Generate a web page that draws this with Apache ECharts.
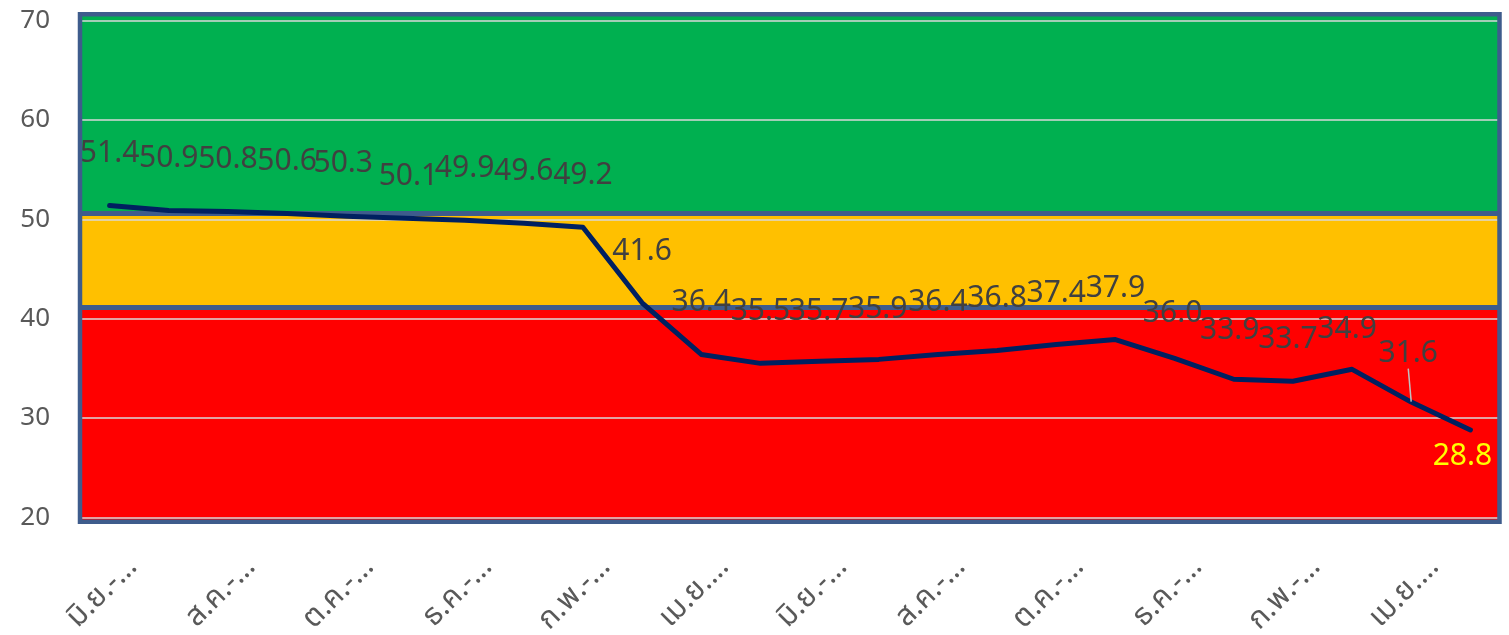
<!DOCTYPE html>
<html>
<head>
<meta charset="utf-8">
<script src="https://cdn.jsdelivr.net/npm/echarts@6/dist/echarts.min.js"></script>
<style>
html,body{margin:0;padding:0;background:#fff;}
#chart{width:1509px;height:635px;}
</style>
</head>
<body>
<div id="chart"></div>
<script>
// ---- data ----
const categories = [
  'มิ.ย.-…','ก.ค.-…','ส.ค.-…','ก.ย.-…','ต.ค.-…','พ.ย.-…','ธ.ค.-…','ม.ค.-…','ก.พ.-…','มี.ค.-…','เม.ย.…','พ.ค.-…',
  'มิ.ย.-…','ก.ค.-…','ส.ค.-…','ก.ย.-…','ต.ค.-…','พ.ย.-…','ธ.ค.-…','ม.ค.-…','ก.พ.-…','มี.ค.-…','เม.ย.…','พ.ค.-…'
];
const values = [51.4, 50.9, 50.8, 50.6, 50.3, 50.1, 49.9, 49.6, 49.2, 41.6, 36.4, 35.5,
                35.7, 35.9, 36.4, 36.8, 37.4, 37.9, 36.0, 33.9, 33.7, 34.9, 31.6, 28.8];
const yTicks = [20, 30, 40, 50, 60, 70];
const redTop = 41.1;      // red zone upper bound
const yellowTop = 50.6;   // yellow zone upper bound

// ---- styling (label nudges, px) ----
const labelNudge = {4: [-3, -1], 5: [3, 10], 12: [-1, 2], 13: [-1, 2], 18: [-2, 7], 19: [-4, 3], 20: [-5, 10], 21: [-5, 12], 22: [-3, 3], 23: [-8, 78]};

const chart = echarts.init(document.getElementById('chart'), null, {renderer: 'canvas'});
const FONT = '"Noto Sans", "Noto Sans Thai", Tahoma, "DejaVu Sans", sans-serif';
const BORDER = '#3E5C8C';

const seriesData = values.map((v, i) => {
  const item = {value: v};
  if (i === values.length - 1) item.label = {color: '#FFFF00'};
  if (i === 22) item.labelLine = {show: true};
  return item;
});

const option = {
  animation: false,
  backgroundColor: '#fff',
  grid: {left: 80, right: 9, top: 20.7, bottom: 117.7, containLabel: false, outerBoundsMode: 'none'},
  xAxis: {
    type: 'category',
    data: categories,
    boundaryGap: true,
    axisLine: {show: false},
    axisTick: {show: false},
    splitLine: {show: false},
    axisLabel: {
      interval: 1,
      rotate: 45,
      margin: 22,
      verticalAlign: 'top',
      lineHeight: 64,
      color: '#595959',
      fontSize: 30,
      fontFamily: FONT
    }
  },
  yAxis: {
    type: 'value',
    min: yTicks[0],
    max: yTicks[yTicks.length - 1],
    interval: 10,
    z: 3,
    axisLine: {show: false},
    axisTick: {show: false},
    axisLabel: {margin: 30, color: '#595959', fontSize: 26, fontFamily: FONT},
    splitLine: {show: true, lineStyle: {color: '#D9D9D9', width: 1.5}}
  },
  graphic: [
    {type: 'rect', z: 1, shape: {x: 80, y: 14, width: 1420, height: 7}, style: {fill: '#00B050'}},
    {type: 'rect', z: 1, shape: {x: 80, y: 517, width: 1420, height: 5}, style: {fill: '#FF0000'}},
    {type: 'rect', z: 20, shape: {x: 80, y: 14.2, width: 1419.5, height: 507.5}, style: {fill: 'none', stroke: BORDER, lineWidth: 4.5}}
  ],
  series: [
    {
      type: 'line',
      data: [],
      z: 1,
      silent: true,
      markArea: {
        silent: true,
        data: [
          [{yAxis: yTicks[0], itemStyle: {color: '#FF0000'}}, {yAxis: redTop}],
          [{yAxis: redTop, itemStyle: {color: '#FFC000'}}, {yAxis: yellowTop}],
          [{yAxis: yellowTop, itemStyle: {color: '#00B050'}}, {yAxis: yTicks[yTicks.length - 1]}]
        ]
      }
    },
    {
      type: 'line',
      data: [],
      z: 4,
      silent: true,
      markLine: {
        silent: true,
        symbol: 'none',
        label: {show: false},
        lineStyle: {color: BORDER, width: 5, type: 'solid'},
        data: [{yAxis: redTop}, {yAxis: yellowTop}]
      }
    },
    {
      type: 'line',
      z: 6,
      data: seriesData,
      showSymbol: true,
      symbol: 'circle',
      symbolSize: 1,
      itemStyle: {color: 'rgba(0,0,0,0)'},
      lineStyle: {color: '#002060', width: 5, join: 'round', cap: 'round'},
      label: {
        show: true,
        position: 'top',
        distance: 36,
        fontSize: 30,
        fontFamily: FONT,
        color: '#404040',
        formatter: p => p.value.toFixed(1)
      },
      labelLine: {show: false, lineStyle: {color: '#BFBFBF', width: 1.5}},
      labelLayout: function (params) {
        const n = labelNudge[params.dataIndex];
        if (!n) return {};
        return {dx: n[0], dy: n[1]};
      }
    }
  ]
};
chart.setOption(option);
</script>
</body>
</html>
